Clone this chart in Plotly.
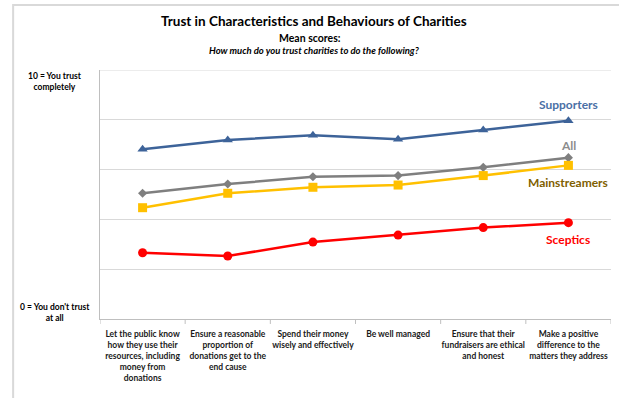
import plotly.graph_objects as go

# Categories (statements) and mean trust scores on a 0-10 scale
statements = [
    "Let the public know<br>how they use their<br>resources, including<br>money from<br>donations",
    "Ensure a reasonable<br>proportion of<br>donations get to the<br>end cause",
    "Spend their money<br>wisely and effectively",
    "Be well managed",
    "Ensure that their<br>fundraisers are ethical<br>and honest",
    "Make a positive<br>difference to the<br>matters they address",
]
supporters = [6.82, 7.19, 7.38, 7.22, 7.59, 7.96]
all_resp = [5.05, 5.42, 5.71, 5.76, 6.09, 6.48]
mainstreamers = [4.47, 5.05, 5.29, 5.38, 5.76, 6.17]
sceptics = [2.66, 2.53, 3.09, 3.37, 3.67, 3.87]

series_names = ["Supporters", "All", "Mainstreamers", "Sceptics"]
series_values = [supporters, all_resp, mainstreamers, sceptics]
line_colors = ["#3d6399", "#7f7f7f", "#ffc000", "#ff0000"]
marker_symbols = ["triangle-up", "diamond", "square", "circle"]
marker_sizes = [9, 7, 9, 9]
label_colors = ["#4a6fa5", "#8c8c8c", "#7f6000", "#ff0000"]
label_y = [8.63, 6.95, 5.50, 3.21]

FONT = "Lato, Carlito, Calibri, 'Liberation Sans', sans-serif"

idx = list(range(len(statements)))

fig = go.Figure()
for name, vals, col, sym, ms in zip(series_names, series_values, line_colors,
                                     marker_symbols, marker_sizes):
    fig.add_trace(go.Scatter(
        x=idx, y=vals, mode="lines+markers", name=name,
        line=dict(color=col, width=2.5),
        marker=dict(color=col, symbol=sym, size=ms),
        showlegend=False,
    ))

# Series labels at the right end of each line
for name, y, col in zip(series_names, label_y, label_colors):
    fig.add_annotation(x=len(statements) - 1, y=y, xref="x", yref="y",
                       text=f"<b>{name}</b>", showarrow=False,
                       xanchor="center", yanchor="middle",
                       font=dict(family=FONT, size=12, color=col))

# Titles
titles = [
    ("<b>Trust in Characteristics and Behaviours of Charities</b>", 0.419, 1.197, 13.5),
    ("<b>Mean scores:</b>", 0.411, 1.129, 10.5),
    ("<b><i>How much do you trust charities to do the following?</i></b>", 0.419, 1.080, 9.5),
]
for text, x, y, size in titles:
    fig.add_annotation(x=x, y=y, xref="paper", yref="paper", text=text,
                       showarrow=False, xanchor="center", yanchor="middle",
                       font=dict(family=FONT, size=size, color="#000000"))

# Scale end descriptions
for text, y in [("<b>10 = You trust<br>completely</b>", 0.954),
                ("<b>0 = You don't trust<br>at all</b>", 0.026)]:
    fig.add_annotation(x=-0.088, y=y, xref="paper", yref="paper", text=text,
                       showarrow=False, xanchor="center", yanchor="middle",
                       align="center",
                       font=dict(family=FONT, size=8.5, color="#000000"))

# Outer chart frame
fig.add_shape(type="rect", xref="paper", yref="paper",
              x0=-0.170, y0=-0.6, x1=1.2, y1=1.261,
              line=dict(color="#d9d9d9", width=2), layer="below")

# Top gridline at the maximum score
fig.add_shape(type="line", xref="paper", yref="y", x0=0, x1=1, y0=10, y1=10,
              line=dict(color="#d9d9d9", width=1), layer="below")

fig.update_xaxes(
    range=[-0.5, len(statements) - 0.5],
    tickmode="array", tickvals=idx,
    ticktext=[f"<b>{s}</b>" for s in statements],
    tickfont=dict(family=FONT, size=8.5, color="#1a1a1a"),
    ticklabelstandoff=7,
    showgrid=False, showline=True, linecolor="#bfbfbf", linewidth=1,
    ticks="", zeroline=False,
)
fig.update_yaxes(
    range=[0, 10], dtick=2, showticklabels=False,
    showgrid=True, gridcolor="#d9d9d9", gridwidth=1,
    showline=True, linecolor="#bfbfbf", linewidth=1,
    zeroline=False, ticks="",
)

# Category boundary tick marks below the axis
for b in [i - 0.5 for i in range(len(statements) + 1)]:
    fig.add_shape(type="line", xref="x", yref="paper", x0=b, x1=b,
                  y0=0, y1=-0.02, line=dict(color="#bfbfbf", width=1))

fig.update_layout(
    width=619, height=398,
    margin=dict(l=100, r=8, t=70, b=79),
    paper_bgcolor="white", plot_bgcolor="white",
    font=dict(family=FONT),
)

fig.write_html("out.html")
